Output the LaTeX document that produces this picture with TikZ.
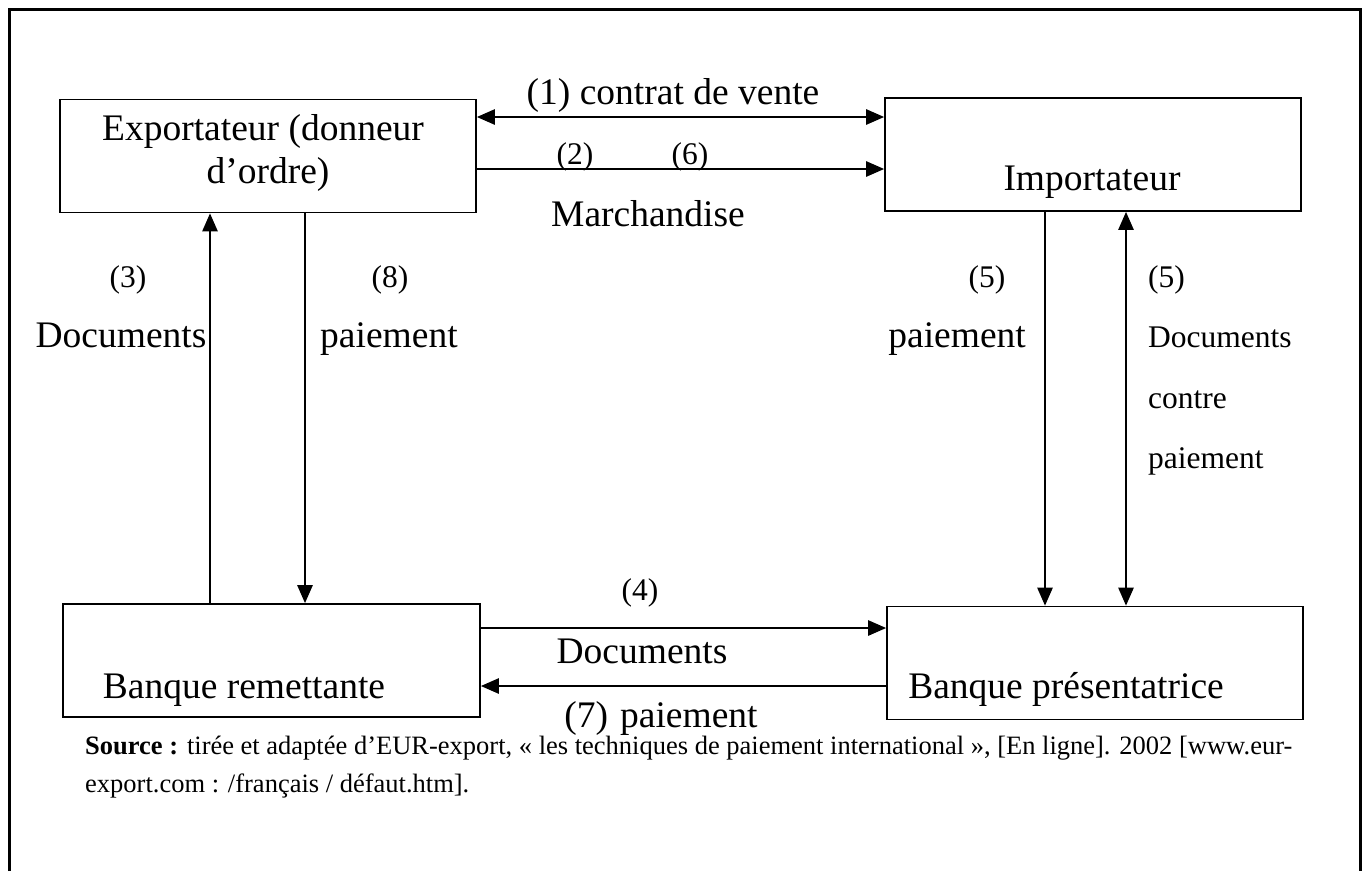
\documentclass[tikz,border=0pt]{standalone}
\usepackage{fontspec}
\setmainfont{Liberation Serif}
\usetikzlibrary{arrows.meta}
\begin{document}
\begin{tikzpicture}[x=1pt,y=-1pt,
  box/.style={draw,line width=1.6pt,minimum width=#1,minimum height=113pt,inner sep=0pt},
  big/.style={inner sep=0pt,font=\fontsize{37.5}{42}\selectfont},
  small/.style={inner sep=0pt,font=\fontsize{31.5}{36}\selectfont},
  note/.style={inner sep=0pt,font=\fontsize{26.5}{30}\selectfont},
  arr/.style={line width=2.5pt,-{Triangle[length=18pt,width=15pt]}},
  dbl/.style={line width=2.5pt,{Triangle[length=18pt,width=15pt]}-{Triangle[length=18pt,width=15pt]}}]
\useasboundingbox (0,0) rectangle (1367,871);
% frame, open at the bottom
\draw[line width=3pt] (9,871) -- (9,9) -- (1360,9) -- (1360,871);

% the four parties
\node[box=416pt] (exp) at (268,156) {};
\node[box=416pt] (imp) at (1093,154.5) {};
\node[box=417pt] (rem) at (271.5,660.5) {};
\node[box=416pt] (pre) at (1095,663) {};

\node[big,anchor=base] (expa) at (263,140) {Exportateur (donneur};
\node[big,anchor=base] (expb) at (268,183) {d’ordre)};
\node[big,anchor=base] (impt) at (1092,190) {Importateur};
\node[big,anchor=base] (remt) at (244,698) {Banque remettante};
\node[big,anchor=base] (pret) at (1066,698) {Banque présentatrice};

% reference positions of the connectors
\coordinate (r1) at (0,117);
\coordinate (r2) at (0,169);
\coordinate (r3) at (210,0);
\coordinate (r8) at (305,0);
\coordinate (r5a) at (1045,0);
\coordinate (r5b) at (1126,0);
\coordinate (r4) at (0,628);
\coordinate (r7) at (0,686);

\draw[dbl] (exp.east |- r1) -- (imp.west |- r1);
\draw[arr] (exp.east |- r2) -- (imp.west |- r2);
\draw[arr] (rem.north -| r3) -- (exp.south -| r3);
\draw[arr] (exp.south -| r8) -- (rem.north -| r8);
\draw[arr] (imp.south -| r5a) -- (pre.north -| r5a);
\draw[dbl] (imp.south -| r5b) -- (pre.north -| r5b);
\draw[arr] (rem.east |- r4) -- (pre.west |- r4);
\draw[arr] (pre.west |- r7) -- (rem.east |- r7);

% connector labels
\node[big,anchor=base] (l1) at (673,104) {(1) contrat de vente};
\node[small,anchor=base] (l2) at (575,164) {(2)};
\node[small,anchor=base] (l6) at (690,164) {(6)};
\node[big,anchor=base] (lm) at (648,226) {Marchandise};
\node[small,anchor=base] (l3) at (128,287) {(3)};
\node[big,anchor=base] (l3b) at (121,347) {Documents};
\node[small,anchor=base] (l8) at (390,287) {(8)};
\node[big,anchor=base west] (l8b) at (320,347) {paiement};
\node[small,anchor=base] (l5a) at (987,287) {(5)};
\node[big,anchor=base east] (l5ab) at (1026,347) {paiement};
\node[small,anchor=base west] (l5b) at (1148,287) {(5)};
\node[small,anchor=base west] (l5bb) at (1148,347) {Documents};
\node[small,anchor=base west] (l5bc) at (1148,408) {contre};
\node[small,anchor=base west] (l5bd) at (1148,468) {paiement};
\node[small,anchor=base] (l4) at (640,600) {(4)};
\node[big,anchor=base] (l4b) at (642,663) {Documents};
\node[big,anchor=base] (l7) at (661,727) {(7)\hspace{0.32em}paiement};

% source note
\node[note,anchor=base west] (src1) at (85,754) {\textbf{Source :} tirée et adaptée d’EUR-export, « les techniques de paiement international », [En ligne]. 2002 [www.eur-};
\node[note,anchor=base west] (src2) at (85,792) {export.com : /français / défaut.htm].};
\end{tikzpicture}
\end{document}
